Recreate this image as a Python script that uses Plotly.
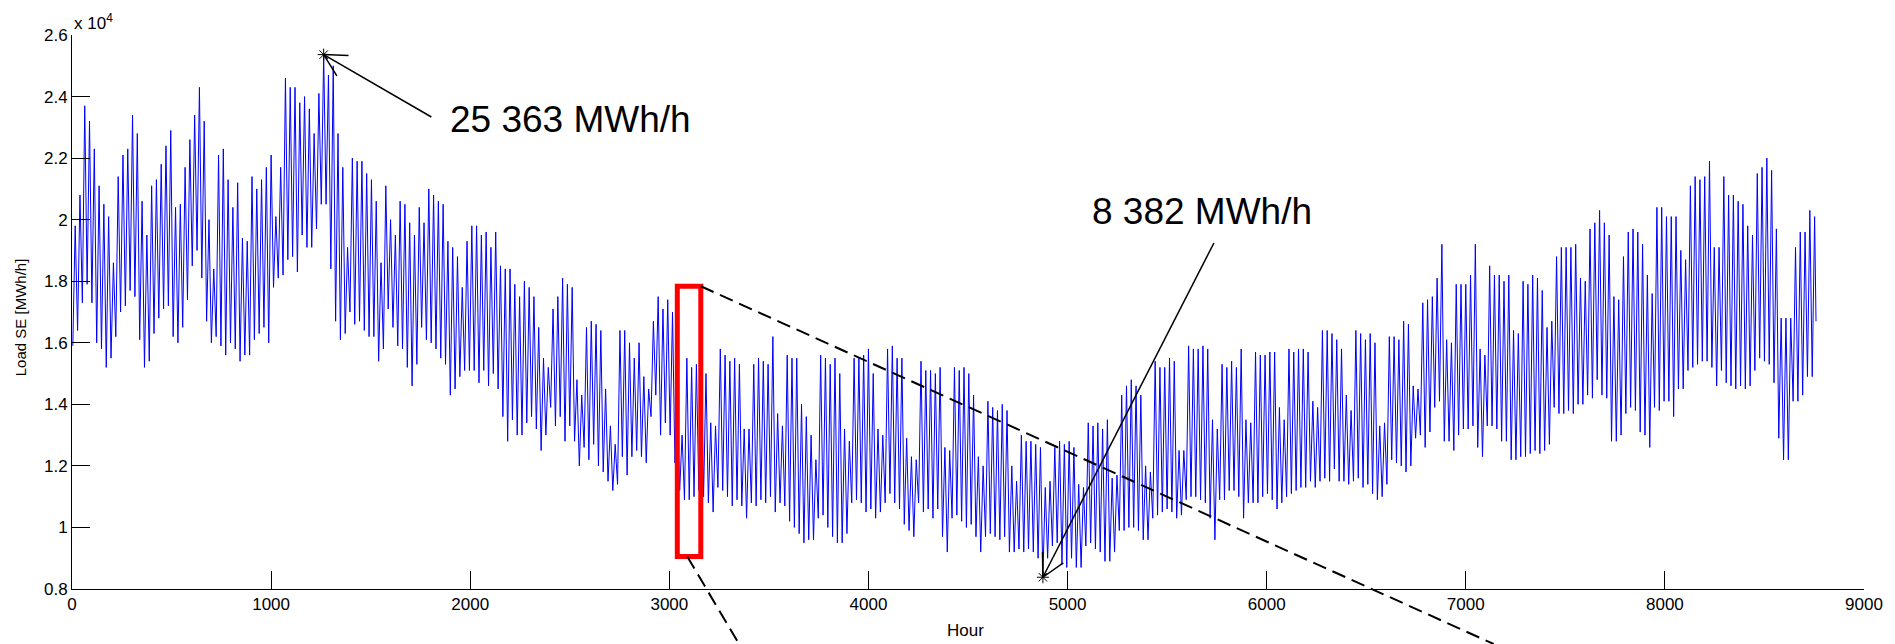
import math
import plotly.graph_objects as go

# ---------------- data (x 10^4 MWh/h), one value per day ----------------
# daily maximum (peak) load
daily_peak = [
    1.98, 2.08, 2.37, 2.32, 2.23, 2.11, 2.05,
    2.01, 1.86, 2.14, 2.21, 2.23, 2.34, 2.28,
    2.06, 1.95, 2.11, 2.13, 2.18, 2.24, 2.29,
    2.04, 2.05, 2.17, 2.26, 2.34, 2.43, 2.32,
    2.00, 1.84, 2.21, 2.23, 2.13, 2.04, 2.12,
    1.94, 1.93, 2.14, 2.10, 2.13, 2.17, 2.21,
    2.01, 2.17, 2.46, 2.43, 2.43, 2.38, 2.40,
    2.36, 2.28, 2.41, 2.5363, 2.47, 2.50, 2.28,
    2.17, 1.91, 2.20, 2.19, 2.19, 2.15, 2.13,
    2.06, 1.86, 2.11, 2.00, 1.95, 2.06, 2.05,
    1.99, 1.95, 2.04, 1.99, 2.10, 2.08, 2.06,
    2.05, 1.93, 1.91, 1.88, 1.78, 1.93, 1.98,
    1.98, 1.95, 1.96, 1.91, 1.96, 1.85, 1.84,
    1.84, 1.79, 1.75, 1.80, 1.78, 1.75, 1.65,
    1.55, 1.52, 1.71, 1.75, 1.81, 1.79, 1.78,
    1.48, 1.43, 1.65, 1.67, 1.66, 1.64, 1.45,
    1.33, 1.27, 1.64, 1.64, 1.60, 1.55, 1.60,
    1.49, 1.45, 1.67, 1.75, 1.71, 1.74, 1.70,
    1.35, 1.30, 1.55, 1.52, 1.53, 1.54, 1.50,
    1.34, 1.33, 1.58, 1.56, 1.54, 1.55, 1.53,
    1.32, 1.32, 1.53, 1.55, 1.54, 1.53, 1.62,
    1.37, 1.33, 1.56, 1.55, 1.55, 1.40, 1.36,
    1.30, 1.22, 1.56, 1.55, 1.53, 1.55, 1.50,
    1.32, 1.28, 1.55, 1.55, 1.56, 1.58, 1.50,
    1.32, 1.30, 1.58, 1.59, 1.55, 1.55, 1.29,
    1.23, 1.22, 1.54, 1.51, 1.51, 1.50, 1.52,
    1.26, 1.25, 1.52, 1.51, 1.52, 1.50, 1.43,
    1.23, 1.20, 1.41, 1.39, 1.38, 1.40, 1.38,
    1.20, 1.15, 1.30, 1.28, 1.28, 1.27, 1.26,
    1.13, 1.15, 1.26, 1.28, 1.27, 1.28, 1.26,
    1.14, 1.13, 1.34, 1.33, 1.34, 1.32, 1.35,
    1.16, 1.17, 1.43, 1.46, 1.48, 1.46, 1.43,
    1.20, 1.18, 1.54, 1.52, 1.52, 1.55, 1.54,
    1.25, 1.25, 1.59, 1.58, 1.58, 1.59, 1.58,
    1.35, 1.32, 1.53, 1.52, 1.54, 1.52, 1.58,
    1.35, 1.34, 1.57, 1.56, 1.56, 1.57, 1.57,
    1.39, 1.35, 1.58, 1.57, 1.58, 1.58, 1.57,
    1.41, 1.39, 1.64, 1.64, 1.63, 1.61, 1.58,
    1.43, 1.38, 1.64, 1.63, 1.61, 1.63, 1.60,
    1.33, 1.34, 1.62, 1.62, 1.61, 1.67, 1.66,
    1.46, 1.45, 1.73, 1.74, 1.75, 1.81, 1.92,
    1.61, 1.60, 1.79, 1.79, 1.79, 1.82, 1.92,
    1.58, 1.56, 1.85, 1.82, 1.82, 1.80, 1.82,
    1.64, 1.63, 1.80, 1.79, 1.82, 1.81, 1.77,
    1.65, 1.67, 1.88, 1.91, 1.91, 1.91, 1.92,
    1.81, 1.80, 1.97, 1.99, 2.03, 1.99, 1.95,
    1.75, 1.74, 1.88, 1.96, 1.97, 1.96, 1.92,
    1.82, 1.76, 2.04, 2.04, 2.01, 2.01, 2.01,
    1.90, 1.87, 2.11, 2.14, 2.13, 2.14, 2.19,
    1.91, 1.91, 2.14, 2.08, 2.08, 2.06, 2.05,
    1.98, 1.95, 2.15, 2.17, 2.20, 2.16, 1.97,
    1.68, 1.68, 1.68, 1.91, 1.96, 1.96, 2.03,
    2.01,
]
# daily minimum (night) load
daily_trough = [
    1.59, 1.64, 1.73, 1.79, 1.73, 1.60, 1.58,
    1.52, 1.55, 1.62, 1.70, 1.72, 1.77, 1.75,
    1.61, 1.52, 1.54, 1.63, 1.68, 1.71, 1.72,
    1.62, 1.60, 1.65, 1.74, 1.85, 1.90, 1.81,
    1.67, 1.60, 1.62, 1.59, 1.56, 1.60, 1.58,
    1.54, 1.56, 1.56, 1.61, 1.63, 1.65, 1.60,
    1.78, 1.81, 1.82, 1.87, 1.88, 1.83, 1.95,
    1.91, 1.91, 1.97, 2.05, 2.05, 1.84, 1.67,
    1.61, 1.63, 1.70, 1.66, 1.67, 1.64, 1.62,
    1.62, 1.54, 1.58, 1.71, 1.65, 1.59, 1.58,
    1.52, 1.46, 1.53, 1.65, 1.61, 1.60, 1.58,
    1.55, 1.53, 1.43, 1.45, 1.49, 1.51, 1.51,
    1.51, 1.47, 1.51, 1.46, 1.50, 1.45, 1.36,
    1.28, 1.35, 1.30, 1.30, 1.34, 1.36, 1.32,
    1.25, 1.30, 1.39, 1.33, 1.36, 1.28, 1.33,
    1.28, 1.20, 1.26, 1.22, 1.27, 1.20, 1.18,
    1.15, 1.12, 1.14, 1.23, 1.17, 1.23, 1.25,
    1.23, 1.21, 1.36, 1.43, 1.30, 1.34, 1.30,
    1.21, 1.12, 1.09, 1.09, 1.10, 1.12, 1.10,
    1.08, 1.05, 1.13, 1.12, 1.10, 1.07, 1.09,
    1.07, 1.03, 1.08, 1.07, 1.09, 1.08, 1.10,
    1.05, 1.08, 1.07, 1.02, 1.00, 0.98, 0.95,
    0.96, 0.96, 1.03, 1.04, 1.00, 0.97, 0.95,
    0.95, 0.98, 1.08, 1.09, 1.08, 1.05, 1.06,
    1.03, 1.05, 1.08, 1.11, 1.08, 1.06, 1.01,
    0.99, 0.97, 1.08, 1.05, 1.06, 1.03, 1.06,
    0.97, 0.92, 1.03, 1.04, 1.02, 1.00, 1.01,
    0.97, 0.92, 0.97, 0.98, 0.97, 0.96, 0.97,
    0.92, 0.92, 0.93, 0.92, 0.93, 0.92, 0.90,
    0.8382, 0.90, 0.94, 0.95, 0.88, 0.87, 0.90,
    0.87, 0.87, 0.94, 0.95, 0.93, 0.92, 0.89,
    0.89, 0.92, 0.99, 0.99, 1.00, 1.00, 0.99,
    0.96, 0.96, 1.03, 1.04, 1.05, 1.06, 1.05,
    1.03, 1.04, 1.09, 1.10, 1.10, 1.09, 1.08,
    1.03, 0.96, 1.09, 1.09, 1.12, 1.12, 1.10,
    1.03, 1.08, 1.08, 1.08, 1.10, 1.11, 1.09,
    1.06, 1.08, 1.10, 1.11, 1.12, 1.13, 1.13,
    1.15, 1.13, 1.15, 1.16, 1.15, 1.19, 1.15,
    1.15, 1.14, 1.15, 1.16, 1.13, 1.14, 1.11,
    1.09, 1.10, 1.14, 1.22, 1.21, 1.20, 1.18,
    1.20, 1.29, 1.30, 1.26, 1.31, 1.39, 1.41,
    1.28, 1.28, 1.25, 1.30, 1.32, 1.32, 1.33,
    1.26, 1.23, 1.33, 1.33, 1.32, 1.28, 1.28,
    1.22, 1.22, 1.23, 1.23, 1.24, 1.25, 1.24,
    1.25, 1.27, 1.39, 1.37, 1.37, 1.38, 1.37,
    1.40, 1.40, 1.43, 1.42, 1.48, 1.43, 1.42,
    1.28, 1.28, 1.30, 1.37, 1.39, 1.38, 1.31,
    1.30, 1.26, 1.39, 1.38, 1.41, 1.41, 1.36,
    1.45, 1.45, 1.51, 1.52, 1.53, 1.54, 1.54,
    1.52, 1.46, 1.51, 1.47, 1.46, 1.45, 1.46,
    1.45, 1.46, 1.51, 1.55, 1.54, 1.53, 1.47,
    1.29, 1.22, 1.22, 1.41, 1.41, 1.43, 1.49,
    1.49,
]
last_hour_value = 1.67
trough_hour_of_day = 4
peak_hour_of_day = 16
hours_in_year = 8760

x_tick_values = [0, 1000, 2000, 3000, 4000, 5000, 6000, 7000, 8000, 9000]
y_tick_values = [0.8, 1.0, 1.2, 1.4, 1.6, 1.8, 2.0, 2.2, 2.4, 2.6]
y_tick_labels = ["0.8", "1", "1.2", "1.4", "1.6", "1.8", "2", "2.2", "2.4", "2.6"]

# highlighted week (red box)
zoom_start_hour, zoom_end_hour = 3040, 3158
zoom_low, zoom_high = 0.9057, 1.7836
zoom_lower_link_hour = 3090

peak_label = "25 363 MWh/h"
min_label = "8 382 MWh/h"

# ---------------- build hourly series ----------------
hours, load = [], []
for d, (lo, hi) in enumerate(zip(daily_trough, daily_peak)):
    hours += [24 * d + trough_hour_of_day, 24 * d + peak_hour_of_day]
    load += [lo, hi]
hours.append(hours_in_year - 1)
load.append(last_hour_value)

i_max = max(range(len(load)), key=lambda i: load[i])
i_min = min(range(len(load)), key=lambda i: load[i])

# ---------------- geometry helpers ----------------
W, H = 1895, 644
ML, MR, MT, MB = 72, 23, 35, 55
PW, PH = W - ML - MR, H - MT - MB
XR = [0, 9000]
YR = [0.8, 2.6]


def to_px(x, y):
    return (ML + (x - XR[0]) / (XR[1] - XR[0]) * PW,
            MT + (YR[1] - y) / (YR[1] - YR[0]) * PH)


def px_to_data(px, py):
    return (XR[0] + (px - ML) / PW * (XR[1] - XR[0]),
            YR[1] - (py - MT) / PH * (YR[1] - YR[0]))


def px_to_paper(px, py):
    return (px - ML) / PW, (H - MB - py) / PH


fig = go.Figure()
fig.add_trace(go.Scatter(x=hours, y=load, mode="lines",
                         line=dict(color="#0000ff", width=1), hoverinfo="skip",
                         showlegend=False))
fig.add_trace(go.Scatter(x=[hours[i_max], hours[i_min]], y=[load[i_max], load[i_min]],
                         mode="markers", showlegend=False,
                         marker=dict(symbol="asterisk-open", size=10, color="black",
                                     line=dict(color="black", width=1))))

shapes = []
annotations = []
FONT = "Liberation Sans, Arial, Helvetica, sans-serif"


def arrow(tail_px, tip_data, label, label_px):
    tx, ty = to_px(*tip_data)
    ax, ay = tail_px
    tail_data = px_to_data(ax, ay)
    shapes.append(dict(type="line", xref="x", yref="y", x0=tail_data[0], y0=tail_data[1],
                       x1=tip_data[0], y1=tip_data[1], line=dict(color="black", width=1.5)))
    ux, uy = ax - tx, ay - ty
    n = math.hypot(ux, uy)
    ux, uy = ux / n, uy / n
    for s in (1, -1):
        a = math.radians(28) * s
        vx = ux * math.cos(a) - uy * math.sin(a)
        vy = ux * math.sin(a) + uy * math.cos(a)
        ex, ey = px_to_data(tx + 25 * vx, ty + 25 * vy)
        shapes.append(dict(type="line", xref="x", yref="y", x0=tip_data[0], y0=tip_data[1],
                           x1=ex, y1=ey, line=dict(color="black", width=1.5)))
    lx, ly = px_to_data(*label_px)
    annotations.append(dict(x=lx, y=ly, xref="x", yref="y", text=label, showarrow=False,
                            font=dict(family=FONT, size=37, color="black"),
                            xanchor="center", yanchor="middle"))


arrow((433, 117), (hours[i_max], load[i_max]), peak_label, (573, 119))
arrow((1219, 243), (hours[i_min], load[i_min]), min_label, (1207, 211))

# red box
shapes.append(dict(type="rect", xref="x", yref="y", x0=zoom_start_hour, x1=zoom_end_hour,
                   y0=zoom_low, y1=zoom_high, line=dict(color="#ff0000", width=5)))
# dashed links towards the (cut off) zoomed panel below
p1 = px_to_paper(*to_px(zoom_end_hour, zoom_high))
p2 = px_to_paper(*to_px(zoom_lower_link_hour, zoom_low))
e1 = px_to_paper(1500, 644)
e2 = px_to_paper(742, 644)
for (a, b) in ((p1, e1), (p2, e2)):
    shapes.append(dict(type="line", xref="paper", yref="paper", x0=a[0], y0=a[1], x1=b[0], y1=b[1],
                       line=dict(color="black", width=2, dash="14px,7px")))

annotations += [
    dict(text="x 10<sup>4</sup>", xref="paper", yref="paper", x=0, y=px_to_paper(0, 22)[1],
         xanchor="left", yanchor="middle", showarrow=False,
         font=dict(family=FONT, size=17, color="black")),
    dict(text="Load SE [MWh/h]", xref="paper", yref="paper", x=px_to_paper(20, 0)[0],
         y=px_to_paper(0, 317)[1], textangle=-90, xanchor="center", yanchor="middle",
         showarrow=False, font=dict(family=FONT, size=15, color="black")),
    dict(text="Hour", xref="paper", yref="paper", x=px_to_paper(969, 0)[0],
         y=px_to_paper(0, 630)[1], xanchor="center", yanchor="middle",
         showarrow=False, font=dict(family=FONT, size=17, color="black")),
]

axis_common = dict(showgrid=False, zeroline=False, showline=True, linecolor="black",
                   linewidth=1, ticks="inside", ticklen=18, tickwidth=1, tickcolor="black",
                   mirror=False, tickfont=dict(family=FONT, size=17, color="black"))

fig.update_layout(
    width=W, height=H,
    margin=dict(l=ML, r=MR, t=MT, b=MB, pad=0),
    paper_bgcolor="white", plot_bgcolor="white",
    xaxis=dict(range=XR, tickvals=x_tick_values, **axis_common),
    yaxis=dict(range=YR, tickvals=y_tick_values, ticktext=y_tick_labels, **axis_common),
    shapes=shapes, annotations=annotations, showlegend=False,
)

fig.write_html("out.html", config={"displayModeBar": False},
               post_script="document.body.style.margin='0';")
